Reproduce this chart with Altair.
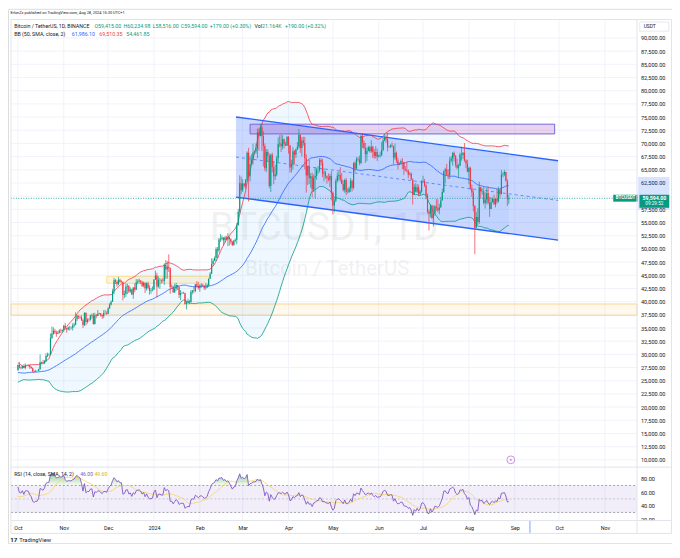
import altair as alt
import pandas as pd
import numpy as np

# ---------------- chart values: BTC/USDT (Binance), 1D, prices in thousand USDT ----------------
# closes before the visible range (Aug 13 - Sep 30, 2023), only used to warm up BB(50) and RSI(14)
WARMUP_CLOSE = [29.28, 29.42, 29.17, 28.70, 26.62, 26.05, 26.10, 26.19, 26.12, 26.04,
                26.43, 26.16, 26.05, 26.00, 26.09, 26.10, 27.72, 27.30, 25.93,
                25.80, 25.87, 25.97, 25.81, 25.78, 25.75, 26.24, 25.90, 25.89, 25.83,
                25.16, 25.84, 26.22, 26.53, 26.60, 26.57, 26.53, 26.76, 27.21, 27.13,
                26.57, 26.58, 26.58, 26.25, 26.30, 26.22, 26.37, 27.02, 26.91, 26.97]

OCT23_C = [27.99, 27.50, 27.43, 27.78, 27.41, 27.93, 27.96, 27.92, 27.59, 27.39, 26.87, 26.76, 26.86, 26.86, 27.16, 28.50,
           28.42, 28.33, 28.72, 29.68, 29.91, 29.99, 33.09, 33.90, 34.50, 34.16, 33.91, 34.09, 34.53, 34.50, 34.67]
OCT23_H = [28.07, 28.58, 27.67, 27.84, 28.12, 28.29, 28.05, 28.10, 27.99, 27.74, 27.48, 26.95, 27.10, 26.97, 27.29, 30.00,
           28.62, 28.98, 28.93, 30.21, 30.34, 30.24, 34.00, 35.28, 35.13, 34.84, 34.50, 34.48, 34.77, 34.86, 34.72]
OCT23_L = [26.95, 27.33, 27.16, 27.22, 27.37, 27.17, 27.86, 27.71, 27.26, 27.30, 26.55, 26.56, 26.69, 26.81, 26.84, 27.11,
           28.09, 28.12, 28.17, 28.61, 29.48, 29.67, 29.88, 32.88, 33.69, 33.86, 33.33, 33.86, 33.95, 34.08, 34.06]

NOV23_C = [35.42, 34.94, 34.73, 35.08, 35.05, 35.05, 35.42, 35.62, 36.70, 37.31, 37.13, 37.06, 36.49, 35.55, 37.88,
           36.16, 36.60, 36.57, 37.36, 37.45, 35.75, 37.42, 37.29, 37.72, 37.80, 37.45, 37.24, 37.83, 37.85, 37.71]
NOV23_H = [35.58, 35.98, 34.94, 35.28, 35.38, 35.29, 35.89, 35.98, 37.97, 37.53, 37.41, 37.23, 37.42, 36.76, 37.98,
           37.93, 36.85, 36.85, 37.51, 37.75, 37.86, 37.89, 37.65, 38.42, 37.89, 37.84, 37.59, 38.38, 38.43, 38.17]
NOV23_L = [34.32, 34.70, 34.10, 34.58, 34.53, 34.74, 34.53, 35.11, 35.54, 36.34, 36.72, 36.76, 36.34, 35.00, 35.36,
           35.50, 35.85, 36.17, 36.39, 36.75, 35.63, 35.67, 36.86, 37.25, 37.59, 37.15, 36.72, 36.87, 37.58, 37.49]

DEC23_C = [38.69, 39.47, 39.98, 41.99, 44.08, 43.77, 43.29, 44.17, 43.72, 43.79, 41.24, 41.45, 42.89, 43.02, 41.94, 42.28,
           41.37, 42.66, 42.27, 43.66, 43.86, 43.99, 43.73, 43.01, 43.58, 42.52, 43.44, 42.58, 42.07, 42.14, 42.28]
DEC23_H = [38.95, 39.70, 40.23, 42.43, 44.49, 44.30, 44.04, 44.70, 44.36, 44.04, 43.75, 42.10, 43.43, 43.41, 43.09, 42.70,
           42.43, 42.73, 43.50, 44.28, 44.24, 44.37, 44.05, 43.95, 43.79, 43.60, 43.68, 43.79, 43.12, 42.61, 42.90]
DEC23_L = [37.63, 38.65, 39.28, 39.98, 41.42, 43.34, 42.82, 43.08, 43.58, 43.56, 40.22, 40.68, 40.88, 41.42, 41.67, 41.70,
           41.25, 40.53, 41.79, 42.21, 43.30, 43.42, 43.29, 42.76, 42.72, 41.64, 42.10, 42.31, 41.30, 41.52, 41.97]

JAN24_C = [44.18, 44.95, 42.85, 44.15, 44.16, 43.97, 43.93, 46.95, 46.11, 46.63, 46.34, 42.78, 42.84, 41.73, 42.51, 43.15,
           42.74, 41.26, 41.62, 41.66, 41.58, 39.57, 39.89, 40.08, 39.93, 41.82, 42.12, 42.03, 43.30, 42.95, 42.58]
JAN24_H = [44.23, 45.88, 45.50, 44.79, 44.48, 44.23, 44.50, 47.25, 47.90, 47.70, 48.97, 46.50, 43.26, 43.08, 43.40, 43.58,
           43.20, 42.93, 42.20, 41.87, 41.87, 41.70, 40.13, 40.56, 40.30, 42.20, 42.20, 42.84, 43.31, 43.88, 43.74]
JAN24_L = [42.18, 44.15, 40.75, 42.63, 42.43, 43.42, 43.58, 43.18, 44.30, 44.36, 45.62, 41.50, 42.44, 41.72, 41.70, 42.05,
           42.20, 40.68, 40.28, 41.45, 41.51, 39.43, 38.55, 39.48, 39.51, 39.82, 41.39, 41.62, 41.80, 42.68, 42.27]

FEB24_C = [43.08, 43.19, 42.99, 42.58, 42.66, 43.09, 44.34, 45.29, 47.13, 47.75, 48.29, 49.96, 49.70, 51.80, 51.91,
           52.12, 51.64, 52.14, 51.78, 52.26, 51.85, 51.30, 50.73, 51.57, 51.73, 54.48, 57.04, 62.43, 61.13]
FEB24_H = [43.29, 43.48, 43.38, 43.12, 43.49, 43.39, 44.38, 45.60, 48.20, 48.17, 48.59, 50.33, 50.37, 52.04, 52.82,
           52.57, 52.23, 52.39, 52.49, 52.98, 52.37, 52.04, 51.55, 51.70, 51.95, 54.91, 57.59, 63.97, 63.68]
FEB24_L = [41.88, 42.57, 42.89, 42.22, 42.26, 42.57, 42.79, 44.33, 45.24, 46.80, 47.69, 47.70, 48.30, 49.27, 51.32,
           51.59, 50.62, 51.14, 51.68, 50.52, 50.63, 50.90, 50.54, 50.60, 51.28, 50.90, 54.45, 56.72, 60.36]

MAR24_C = [62.39, 61.99, 63.11, 68.24, 63.79, 66.10, 66.92, 68.30, 68.50, 69.02, 72.12, 71.48, 73.08, 71.39, 69.50, 65.30,
           68.39, 67.60, 61.93, 67.84, 65.50, 63.80, 64.09, 67.21, 69.88, 69.99, 69.45, 70.78, 69.85, 69.58, 71.28]
MAR24_H = [63.23, 62.43, 63.23, 68.50, 69.17, 67.64, 67.98, 69.98, 68.63, 70.01, 72.80, 72.97, 73.65, 73.78, 72.36, 70.00,
           68.92, 68.90, 68.12, 68.03, 68.24, 66.65, 65.97, 67.62, 71.15, 71.55, 71.73, 71.55, 70.91, 70.33, 71.37]
MAR24_L = [60.78, 61.59, 61.32, 62.77, 59.00, 62.80, 65.97, 66.00, 68.02, 68.06, 67.19, 68.66, 71.33, 68.56, 65.63, 64.78,
           64.56, 66.60, 61.50, 60.78, 64.53, 62.26, 63.07, 63.78, 66.39, 69.32, 68.38, 68.89, 69.08, 69.52, 69.56]

APR24_C = [69.65, 65.46, 65.96, 68.50, 67.84, 68.90, 69.36, 71.62, 69.13, 70.58, 70.06, 67.19, 63.92, 65.66, 63.42,
           63.79, 61.28, 63.47, 63.82, 64.94, 64.94, 66.84, 66.41, 64.28, 64.48, 63.76, 63.46, 63.12, 63.84, 60.64]
APR24_H = [71.37, 69.67, 66.91, 69.29, 68.73, 69.00, 70.28, 72.72, 71.76, 71.17, 71.26, 71.23, 67.93, 65.82, 66.87,
           64.37, 64.50, 64.13, 65.45, 65.39, 65.72, 67.23, 67.21, 67.08, 65.30, 64.80, 63.92, 64.32, 64.23, 64.73]
APR24_L = [68.06, 64.49, 64.49, 65.06, 66.01, 67.24, 68.71, 69.04, 68.21, 67.52, 69.57, 65.09, 60.66, 62.10, 62.31,
           61.60, 59.77, 60.80, 59.60, 63.09, 64.24, 64.50, 65.82, 63.59, 62.79, 63.30, 62.39, 62.80, 61.77, 59.19]

MAY24_C = [58.25, 59.12, 62.89, 63.89, 64.00, 63.16, 62.33, 61.19, 63.07, 60.79, 60.81, 61.45, 62.94, 61.58, 66.27, 65.23,
           67.05, 66.94, 66.28, 71.45, 70.14, 69.12, 67.93, 68.55, 69.29, 68.51, 69.39, 68.37, 67.63, 68.36, 67.49]
MAY24_H = [60.86, 59.60, 63.32, 64.49, 64.65, 65.49, 64.40, 62.99, 63.30, 63.47, 61.50, 61.82, 63.45, 63.10, 66.44, 66.70,
           67.44, 67.40, 67.70, 71.52, 71.98, 70.63, 70.09, 69.22, 69.57, 69.51, 70.61, 69.55, 68.92, 69.50, 69.00]
MAY24_L = [56.55, 56.94, 58.85, 62.59, 62.98, 62.71, 62.26, 60.89, 60.64, 60.19, 60.49, 60.63, 60.76, 60.91, 61.33, 64.60,
           65.11, 66.60, 65.86, 66.06, 69.16, 68.90, 66.31, 66.62, 68.50, 68.23, 68.23, 67.23, 67.12, 67.13, 66.67]

JUN24_C = [67.71, 67.75, 68.80, 70.57, 71.08, 70.76, 69.34, 69.31, 69.65, 69.51, 67.32, 68.24, 66.75, 66.01, 66.19,
           66.64, 66.49, 65.15, 64.96, 64.83, 64.10, 64.25, 63.18, 60.28, 61.80, 60.86, 61.67, 60.32, 60.89, 62.68]
JUN24_H = [67.86, 68.45, 70.29, 71.06, 71.76, 71.63, 72.00, 69.56, 69.85, 70.20, 69.56, 69.99, 68.45, 67.29, 66.40,
           66.97, 67.24, 66.49, 65.73, 66.48, 65.07, 64.53, 64.50, 63.37, 62.34, 62.48, 62.29, 62.20, 61.22, 63.06]
JUN24_L = [67.39, 67.29, 67.61, 68.53, 70.38, 70.12, 68.50, 69.21, 69.13, 69.23, 66.05, 66.90, 66.30, 65.08, 65.87,
           66.02, 65.12, 64.06, 64.69, 64.55, 63.38, 63.94, 63.10, 58.40, 60.24, 60.71, 60.59, 60.05, 60.30, 60.64]

JUL24_C = [62.85, 62.03, 60.15, 57.03, 56.66, 58.23, 55.85, 56.70, 58.05, 57.72, 57.34, 57.88, 59.20, 60.80, 64.72, 65.04,
           64.09, 63.97, 66.71, 67.15, 68.17, 67.55, 65.93, 65.37, 65.78, 67.90, 67.81, 68.25, 66.78, 66.19, 64.62]
JUL24_H = [63.86, 63.29, 62.28, 60.50, 57.50, 58.48, 58.38, 58.24, 58.30, 59.47, 59.39, 58.55, 59.85, 61.42, 64.90, 65.39,
           66.13, 65.11, 67.39, 67.60, 68.37, 68.49, 67.80, 67.10, 66.14, 68.24, 69.40, 68.32, 70.08, 67.00, 66.90]
JUL24_L = [62.48, 61.76, 59.40, 56.76, 53.49, 56.01, 55.70, 54.26, 56.29, 57.16, 56.94, 56.55, 57.76, 59.21, 60.63, 62.42,
           63.88, 63.22, 63.30, 66.42, 65.78, 66.59, 65.44, 65.10, 63.45, 65.72, 66.70, 67.05, 66.50, 65.30, 64.53]

AUG24_C = [65.35, 61.50, 60.68, 58.12, 54.02, 56.03, 55.12, 61.70, 60.88, 60.94, 58.71, 59.35, 60.60, 58.74,
           57.56, 58.88, 59.48, 58.43, 59.49, 59.01, 61.16, 60.38, 64.09, 64.18, 64.57, 62.88, 59.415, 59.594]
AUG24_H = [65.59, 65.60, 62.20, 61.12, 58.30, 57.04, 57.72, 62.75, 61.80, 61.47, 61.86, 60.70, 61.58, 61.80,
           59.85, 59.82, 59.70, 60.28, 59.61, 61.40, 61.80, 61.42, 64.96, 64.52, 65.00, 64.60, 63.21, 60.235]
AUG24_L = [62.25, 61.20, 59.85, 57.12, 49.00, 53.96, 54.56, 54.73, 59.57, 60.28, 58.41, 57.65, 58.47, 58.43,
           56.08, 57.78, 58.79, 58.40, 57.86, 58.55, 58.80, 59.72, 60.35, 63.59, 63.80, 62.80, 58.12, 58.516]

MONTH_TICKS = ["2023-10-01", "2023-11-01", "2023-12-01", "2024-01-01", "2024-02-01", "2024-03-01", "2024-04-01",
               "2024-05-01", "2024-06-01", "2024-07-01", "2024-08-01", "2024-09-01", "2024-10-01", "2024-11-01"]
PRICE_TICKS = [10000, 12500, 15000, 17500, 20000, 22500, 25000, 27500, 30000, 32500, 35000, 37500, 40000, 42500,
               45000, 47500, 50000, 52500, 55000, 57500, 60000, 62500, 65000, 67500, 70000, 72500, 75000, 77500,
               80000, 82500, 85000, 87500, 90000]
# the 60,000.00 label sits under the last-price tag, so it is not shown
PRICE_LABELS = [v for v in PRICE_TICKS if v != 60000]
RSI_TICKS = [20, 40, 60, 80]
RSI_LEVELS = [70, 30]
RSI_MID = [50]

# drawings on the chart
CHANNEL_DATES = ["2024-02-25T12:00:00", "2024-09-30T08:00:00"]
CHANNEL_TOP = [75014, 66719]
CHANNEL_BOTTOM = [59825, 51659]
RESIST_DATES = ["2024-03-06", "2024-09-28"]
RESIST_PRICES = [71806, 73650]
ZONE_DATES = ["2023-11-30", "2024-02-07"]
ZONE_PRICES = [43493, 44783]
SUPPORT_BAND = [37420, 39550]
LAST_PRICE = 59594.0

# ---------------- layout helpers (reference pixel -> chart pixel) ----------------
W, H = 666, 536
SX, SY = 0.985, 0.975


def px(x):
    return SX * (x - 1)


def py(y):
    return SY * (y - 2)


FONT = "Roboto"
TXT = "#131722"
UP, DOWN = "#089981", "#F23645"
GRID = "#f0f3fa"
BORDER = "#e0e3eb"


def to_ms(s):
    return int(pd.Timestamp(s).value // 10**6)


NOV1 = pd.Timestamp("2023-11-01")


def refx_ms(x):  # time at a reference pixel column
    return int((NOV1 + pd.Timedelta(days=(x - 53.5) / 1.53)).value // 10**6)


# ---------------- build tables ----------------
months = [(OCT23_C, OCT23_H, OCT23_L, 31), (NOV23_C, NOV23_H, NOV23_L, 30), (DEC23_C, DEC23_H, DEC23_L, 31),
          (JAN24_C, JAN24_H, JAN24_L, 31), (FEB24_C, FEB24_H, FEB24_L, 29), (MAR24_C, MAR24_H, MAR24_L, 31),
          (APR24_C, APR24_H, APR24_L, 30), (MAY24_C, MAY24_H, MAY24_L, 31), (JUN24_C, JUN24_H, JUN24_L, 30),
          (JUL24_C, JUL24_H, JUL24_L, 31), (AUG24_C, AUG24_H, AUG24_L, 28)]
closes, highs, lows = [], [], []
for c, h, l, n in months:
    assert len(c) == n and len(h) == n and len(l) == n, (n, len(c), len(h), len(l))
    closes += c
    highs += h
    lows += l

dates = pd.date_range("2023-10-01", "2024-08-28", freq="D")
assert len(dates) == len(closes)
date_ms = [int(v) for v in (dates.asi8 // 10**6)]

nw = len(WARMUP_CLOSE)
all_close = pd.Series(WARMUP_CLOSE + closes, dtype=float) * 1000.0
opens = all_close.shift(1).iloc[nw:].values
cl = all_close.iloc[nw:].values
hi = np.maximum.reduce([np.array(highs) * 1000.0, opens, cl])
lo = np.minimum.reduce([np.array(lows) * 1000.0, opens, cl])

candles = pd.DataFrame({"date": date_ms, "open": opens, "high": hi, "low": lo, "close": cl})

# Bollinger Bands (50, SMA, close, 2)
mid = all_close.rolling(50).mean()
sd = all_close.rolling(50).std(ddof=0)
bb = pd.DataFrame({"date": date_ms, "mid": mid.iloc[nw:].values,
                   "up": (mid + 2 * sd).iloc[nw:].values, "lo": (mid - 2 * sd).iloc[nw:].values})

# RSI (14, close) with RMA smoothing, plus its 14-SMA
delta = all_close.diff().fillna(0)
gain = delta.clip(lower=0).ewm(alpha=1 / 14, adjust=False).mean()
loss = (-delta.clip(upper=0)).ewm(alpha=1 / 14, adjust=False).mean()
rsi_all = 100 - 100 / (1 + gain / loss)
rsi_ma_all = rsi_all.rolling(14).mean()
rsi = pd.DataFrame({"date": date_ms, "rsi": rsi_all.iloc[nw:].values, "ma": rsi_ma_all.iloc[nw:].values})
rsi["ob"] = np.maximum(rsi["rsi"], 70)
rsi["os"] = np.minimum(rsi["rsi"], 30)
rsi["l70"] = 70.0
rsi["l30"] = 30.0

channel = pd.DataFrame({"date": [to_ms(d) for d in CHANNEL_DATES], "top": CHANNEL_TOP, "bot": CHANNEL_BOTTOM})
channel["mid"] = (channel["top"] + channel["bot"]) / 2

# ---------------- scales & axes ----------------
XSCALE = alt.Scale(type="utc", domain=[refx_ms(4), refx_ms(641.5)], range=[px(4), px(641.5)])
XAXIS = alt.Axis(orient="bottom", offset=py(528.5) - H, values=[to_ms(d) for d in MONTH_TICKS],
                 labelExpr="utcmonth(datum.value) == 0 ? utcFormat(datum.value, '%Y') : utcFormat(datum.value, '%b')",
                 domain=False, ticks=False, tickSize=0, grid=False, labelPadding=py(535.8) - py(528.5),
                 labelBaseline="middle", labelFontSize=5.4, labelFont=FONT, labelColor=TXT,
                 labelFlush=False, labelOverlap=False, title=None)
PSCALE = alt.Scale(domain=[8710, 93502], range=[py(473), py(13)], zero=False, nice=False)
PAXIS = alt.Axis(orient="right", offset=px(641.5) - W, values=PRICE_LABELS, format=",.2f", domain=False,
                 ticks=False, tickSize=0, grid=False, labelPadding=px(645) - px(641.5), labelAlign="left",
                 labelBaseline="middle", labelFontSize=5.6, labelFont=FONT, labelColor=TXT,
                 labelFlush=False, labelOverlap=False, title=None)
RSCALE = alt.Scale(domain=[17.9, 96.4], range=[py(528.5), py(474)], zero=False, nice=False)
RAXIS = alt.Axis(orient="right", offset=px(641.5) - W, values=RSI_TICKS, format=".2f", domain=False,
                 ticks=False, tickSize=0, grid=False, labelPadding=px(645) - px(641.5), labelAlign="left",
                 labelBaseline="middle", labelFontSize=5.6, labelFont=FONT, labelColor=TXT,
                 labelFlush=False, labelOverlap=False, title=None)


def X(f):
    return alt.X(f"{f}:T", scale=XSCALE, axis=XAXIS)


def YP(f):
    return alt.Y(f"{f}:Q", scale=PSCALE, axis=PAXIS)


def YR(f):
    return alt.Y(f"{f}:Q", scale=RSCALE, axis=RAXIS)


ONE = pd.DataFrame({"a": [0]})


def txt(s, x, y, size, color=TXT, align="left", weight="normal", baseline="middle", opacity=1.0):
    return alt.Chart(pd.DataFrame({"t": [s]})).mark_text(
        align=align, baseline=baseline, fontSize=size, font=FONT, fontWeight=weight,
        color=color, opacity=opacity).encode(x=alt.value(x), y=alt.value(y), text="t:N")


def box(x1, y1, x2, y2, **kw):
    return alt.Chart(ONE).mark_rect(**kw).encode(
        x=alt.value(x1), x2=alt.value(x2), y=alt.value(y1), y2=alt.value(y2))


def seg(x1, y1, x2, y2, color=BORDER, width=1.0, **kw):
    return alt.Chart(ONE).mark_rule(color=color, strokeWidth=width, **kw).encode(
        x=alt.value(x1), x2=alt.value(x2), y=alt.value(y1), y2=alt.value(y2))


# ---------------- price pane ----------------
vgrid = alt.Chart(pd.DataFrame({"d": [to_ms(d) for d in MONTH_TICKS]})).mark_rule(
    color=GRID, strokeWidth=1).encode(x=X("d"), y=alt.value(py(13)), y2=alt.value(py(528.5)))
hgrid = alt.Chart(pd.DataFrame({"p": PRICE_TICKS})).mark_rule(color=GRID, strokeWidth=1).encode(
    y=YP("p"), x=alt.value(px(4)), x2=alt.value(px(641.5)))

wm1 = txt("BTCUSDT, 1D", px(323), py(240), 39, align="center", baseline="alphabetic", opacity=0.055)
wm2 = txt("Bitcoin / TetherUS", px(326), py(276), 20.5, align="center", baseline="alphabetic", opacity=0.055)

band = alt.Chart(pd.DataFrame({"lo": [SUPPORT_BAND[0]], "hi": [SUPPORT_BAND[1]]})).mark_rect(
    fill="#FF9800", fillOpacity=0.07, stroke="#ffd28a", strokeWidth=1).encode(
    x=alt.value(px(4)), x2=alt.value(px(641.5)), y=YP("lo"), y2="hi:Q")
zone = alt.Chart(pd.DataFrame({"d0": [to_ms(ZONE_DATES[0])], "d1": [to_ms(ZONE_DATES[1])],
                               "lo": [ZONE_PRICES[0]], "hi": [ZONE_PRICES[1]]})).mark_rect(
    fill="#FFC107", fillOpacity=0.12, stroke="#ffdf9a", strokeWidth=1).encode(
    x=X("d0"), x2="d1:T", y=YP("lo"), y2="hi:Q")

bb_fill = alt.Chart(bb).mark_area(color="#2196F3", opacity=0.07).encode(x=X("date"), y=YP("up"), y2="lo:Q")
ch_fill = alt.Chart(channel).mark_area(color="#2962FF", opacity=0.24).encode(x=X("date"), y=YP("top"), y2="bot:Q")
resist = alt.Chart(pd.DataFrame({"d0": [to_ms(RESIST_DATES[0])], "d1": [to_ms(RESIST_DATES[1])],
                                 "lo": [RESIST_PRICES[0]], "hi": [RESIST_PRICES[1]]})).mark_rect(
    fill="#9C27B0", fillOpacity=0.2, stroke="#7467dc", strokeWidth=1).encode(
    x=X("d0"), x2="d1:T", y=YP("lo"), y2="hi:Q")

bb_up = alt.Chart(bb).mark_line(color="#F23645", strokeWidth=0.8).encode(x=X("date"), y=YP("up"))
bb_lo = alt.Chart(bb).mark_line(color="#089981", strokeWidth=0.8).encode(x=X("date"), y=YP("lo"))
bb_mid = alt.Chart(bb).mark_line(color="#2962FF", strokeWidth=0.8).encode(x=X("date"), y=YP("mid"))

ch_top = alt.Chart(channel).mark_line(color="#2962FF", strokeWidth=1.3).encode(x=X("date"), y=YP("top"))
ch_bot = alt.Chart(channel).mark_line(color="#2962FF", strokeWidth=1.3).encode(x=X("date"), y=YP("bot"))
ch_mid = alt.Chart(channel).mark_line(color="#2962FF", strokeWidth=0.8, strokeDash=[3, 3], opacity=0.8).encode(
    x=X("date"), y=YP("mid"))

pline = alt.Chart(pd.DataFrame({"p": [LAST_PRICE]})).mark_rule(
    color=UP, strokeWidth=0.8, strokeDash=[1, 1.5]).encode(y=YP("p"), x=alt.value(px(4)), x2=alt.value(px(617)))

candle_color = alt.condition("datum.close >= datum.open", alt.value(UP), alt.value(DOWN))
wicks = alt.Chart(candles).mark_rule(strokeWidth=0.7).encode(
    x=X("date"), y=YP("low"), y2="high:Q", color=candle_color)
bodies = alt.Chart(candles).mark_bar(size=1.15).encode(
    x=X("date"), y=YP("open"), y2="close:Q", color=candle_color)

axis_hl = box(px(642.7), py(175), px(674.5), py(209), fill="#2962FF", opacity=0.18)
btc_box = box(px(617.3), py(193.3), px(642.3), py(200.4), fill=UP)
btc_txt = txt("BTCUSDT", px(629.8), py(197), 4.5, color="white", align="center", weight="bold")
price_box = box(px(644), py(193.3), px(674.3), py(206.7), fill=UP)
price_txt1 = txt("59,594.00", px(659.2), py(196.9), 5.3, color="white", align="center", weight="bold")
price_txt2 = txt("09:29:52", px(659.2), py(203.1), 4.7, color="white", align="center")
usdt_box = box(px(644.3), py(15.7), px(674), py(25), fill="white", stroke=BORDER, strokeWidth=0.8)
usdt_txt = txt("USDT", px(648.3), py(20.4), 4.9)

header = txt("ErlonZz published on TradingView.com, Aug 28, 2024 15:30 UTC+1", px(3.5), py(6.2), 3.9)
l1 = [
    txt("Bitcoin / TetherUS, 1D, BINANCE", px(7.3), py(19.5), 5.3),
    txt("O59,415.00", px(89), py(19.5), 5.3, color=UP),
    txt("H60,234.98", px(118.7), py(19.5), 5.3, color=UP),
    txt("L58,516.00", px(148.3), py(19.5), 5.3, color=UP),
    txt("C59,594.00", px(177), py(19.5), 5.3, color=UP),
    txt("+179.00 (+0.30%)", px(206.5), py(19.5), 5.3, color=UP),
    txt("Vol", px(252), py(19.5), 5.3),
    txt("21.164K", px(259.7), py(19.5), 5.3, color=UP),
    txt("+190.00 (+0.32%)", px(283), py(19.5), 5.3, color=UP),
]
l2 = [
    txt("BB (50, SMA, close, 2)", px(7.3), py(27.5), 5.3),
    txt("61,986.10", px(66), py(27.5), 5.3, color="#2962FF"),
    txt("69,510.35", px(94), py(27.5), 5.3, color="#F23645"),
    txt("54,461.85", px(121.5), py(27.5), 5.3, color="#089981"),
]
icon = alt.Chart(ONE).mark_point(shape="circle", size=62, filled=False, stroke="#c062d4", strokeWidth=1).encode(
    x=alt.value(px(513)), y=alt.value(py(466)))
icon_dot = alt.Chart(ONE).mark_point(shape="circle", size=5, filled=True, color="#c062d4").encode(
    x=alt.value(px(513)), y=alt.value(py(466)))

price_pane = alt.layer(vgrid, hgrid, wm1, wm2, band, zone, bb_fill, ch_fill, resist, bb_up, bb_lo, bb_mid,
                       ch_top, ch_bot, ch_mid, pline, wicks, bodies, axis_hl, btc_box, btc_txt, price_box,
                       price_txt1, price_txt2, usdt_box, usdt_txt, header, *l1, *l2, icon, icon_dot)

# ---------------- RSI pane ----------------
rsi_band = alt.Chart(pd.DataFrame({"top": [70], "bot": [30]})).mark_rect(color="#7E57C2", opacity=0.1).encode(
    x=alt.value(px(4)), x2=alt.value(px(641.5)), y=YR("top"), y2="bot:Q")
rsi_lv = alt.Chart(pd.DataFrame({"v": RSI_LEVELS})).mark_rule(
    color="#787B86", strokeWidth=0.7, strokeDash=[2, 2]).encode(y=YR("v"), x=alt.value(px(4)), x2=alt.value(px(641.5)))
rsi_mid = alt.Chart(pd.DataFrame({"v": RSI_MID})).mark_rule(
    color="#787B86", strokeWidth=0.7, strokeDash=[2, 2], opacity=0.5).encode(
    y=YR("v"), x=alt.value(px(4)), x2=alt.value(px(641.5)))
ob_grad = alt.LinearGradient(gradient="linear", x1=1, x2=1, y1=0, y2=1,
                             stops=[alt.GradientStop(color="rgba(76,175,80,0.6)", offset=0),
                                    alt.GradientStop(color="rgba(76,175,80,0.04)", offset=1)])
os_grad = alt.LinearGradient(gradient="linear", x1=1, x2=1, y1=0, y2=1,
                             stops=[alt.GradientStop(color="rgba(242,54,69,0.04)", offset=0),
                                    alt.GradientStop(color="rgba(242,54,69,0.6)", offset=1)])
ob = alt.Chart(rsi).mark_area(color=ob_grad).encode(x=X("date"), y=YR("ob"), y2="l70:Q")
osd = alt.Chart(rsi).mark_area(color=os_grad).encode(x=X("date"), y=YR("os"), y2="l30:Q")
ma_line = alt.Chart(rsi).mark_line(color="#F5D76E", strokeWidth=0.9).encode(x=X("date"), y=YR("ma"))
rsi_line = alt.Chart(rsi).mark_line(color="#7E57C2", strokeWidth=0.9).encode(x=X("date"), y=YR("rsi"))
rsi_leg = [
    txt("RSI (14, close, SMA, 14, 2)", px(7.3), py(481), 5.2),
    txt("46.00", px(74.5), py(481), 5.2, color="#7E57C2"),
    txt("49.60", px(89), py(481), 5.2, color="#d6b700"),
]

rsi_pane = alt.layer(rsi_band, rsi_lv, rsi_mid, ob, osd, ma_line, rsi_line, *rsi_leg)

# ---------------- frame & footer ----------------
frame = [
    box(px(642), py(528.9), px(676.3), py(541.3), fill="white"),
    seg(px(4), py(13), px(676.7), py(13)),
    seg(px(4), py(541.7), px(676.7), py(541.7)),
    seg(px(4), py(13), px(4), py(541.7)),
    seg(px(676.7), py(13), px(676.7), py(541.7)),
    seg(px(4), py(473.5), px(676.7), py(473.5)),
    seg(px(4), py(528.5), px(676.7), py(528.5)),
    seg(px(641.5), py(13), px(641.5), py(541.7)),
    seg(px(532.5), py(529), px(532.5), py(541.2), color="#2962FF", width=1, opacity=0.6),
    txt("17", px(3.2), py(548.3), 6.2, weight="bold"),
    txt("TradingView", px(12.5), py(548.3), 5.8),
]

chart = alt.layer(price_pane, rsi_pane, *frame).resolve_scale(y="independent").properties(
    width=W, height=H, autosize=alt.AutoSizeParams(type="none"), padding=0, background="white"
).configure_view(stroke=None).configure(font=FONT)

chart.save("out.html", embed_options={"renderer": "svg", "actions": False})
